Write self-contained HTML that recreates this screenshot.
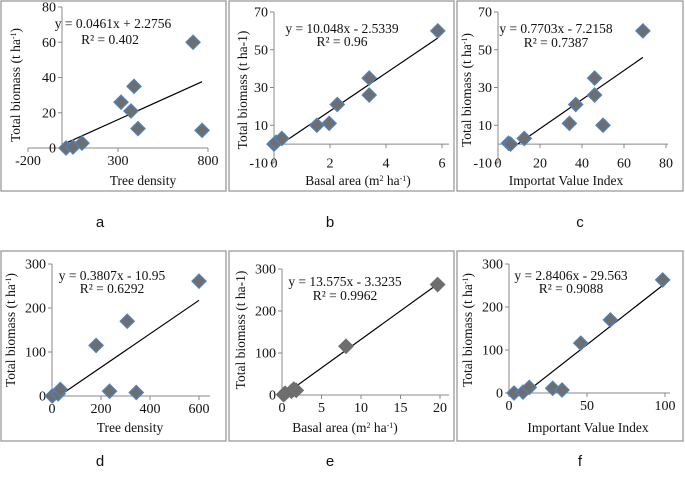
<!DOCTYPE html>
<html><head><meta charset="utf-8"><style>
body{margin:0;background:#fff;}
svg{display:block;font-family:"Liberation Serif",serif;}
</style></head><body>
<svg id="c" width="685" height="479" xmlns="http://www.w3.org/2000/svg"></svg>
<script>
// Panel data (x values, y values)
const aX=[11,50,100,317,372,389,411,717,767];
const aY=[0,0.6,2.8,26,21,35,11,60,10];
const bX=[0,0.07,0.28,1.53,1.97,2.26,3.4,3.4,5.85];
const bY=[0,1,3,10,11,21,26,35,60];
const cX=[5,6,12.5,34,37,46,46,50,69];
const cY=[0.5,0,3,11,21,26,35,10,60];
const dX=[1,25,34,180,235,307,344,600];
const dY=[0,5,15,115,11,170,8,261];
const eX=[0.2,0.4,1.2,1.5,1.8,8.1,19.7];
const eY=[1,4,9,14,11,116,263];
const fX=[3.2,9,13,28,34,46,65,98.5];
const fY=[0,2,13,11,7,116,170,263];
// Trend coefficients [slope, intercept]
const aFit=[0.0461,2.2756],bFit=[10.048,-2.5339],cFit=[0.7703,-7.2158];
const dFit=[0.3807,-10.95],eFit=[13.575,-3.3235],fFit=[2.8406,-29.563];
// Tick labels
const aXT=[-200,300,800],aYT=[0,20,40,60,80];
const bXT=[0,2,4,6],bYT=[-10,10,30,50,70];
const cXT=[0,20,40,60,80],cYT=[-10,10,30,50,70];
const dXT=[0,200,400,600],dYT=[0,100,200,300];
const eXT=[0,5,10,15,20],eYT=[0,100,200,300];
const fXT=[0,50,100],fYT=[0,100,200,300];

const NS="http://www.w3.org/2000/svg";
const svg=document.getElementById('c');
function mk(t,a,p){const e=document.createElementNS(NS,t);for(const k in a)e.setAttribute(k,a[k]);(p||svg).appendChild(e);return e;}

const panels=[
 {id:'a',box:[1,1,225,190],xs:[-200,28,800,208],ys:[0,148,80,7],yAxX:62,xAxV:0,xEnd:208,X:aX,Y:aY,fit:aFit,xt:aXT,yt:aYT,
  eq:['y = 0.0461x + 2.2756',113,28],r2:['R² = 0.402',110,44],xl:'Tree density',xlx:143,xly:185,yl:'Total biomass  (t ha<tspan baseline-shift="super" font-size="8">-1</tspan>)',ylx:16,yly:85,lab:'a',labx:100,laby:227},
 {id:'b',box:[229,1,225,190],xs:[0,274,6,442],ys:[-10,163,70,12],yAxX:274,xAxV:0,xEnd:449,X:bX,Y:bY,fit:bFit,xt:bXT,yt:bYT,
  eq:['y = 10.048x - 2.5339',342,33],r2:['R² = 0.96',342,46],xl:'Basal area (m<tspan baseline-shift="super" font-size="8">2</tspan> ha<tspan baseline-shift="super" font-size="8">-1</tspan>)',xlx:358,xly:185,yl:'Total biomass  (t ha-1)',ylx:243,yly:90,lab:'b',labx:330,laby:227},
 {id:'c',box:[457,1,226,190],xs:[0,498,80,666],ys:[-10,163,70,12],yAxX:498,xAxV:0,xEnd:668,X:cX,Y:cY,fit:cFit,xt:cXT,yt:cYT,
  eq:['y = 0.7703x - 7.2158',556,33],r2:['R² = 0.7387',556,47],xl:'Importat Value Index',xlx:566,xly:185,yl:'Total biomass  (t ha<tspan baseline-shift="super" font-size="8">-1</tspan>)',ylx:467,yly:90,lab:'c',labx:580,laby:227},
 {id:'d',box:[1,251,225,190],xs:[0,52,600,199],ys:[0,396,300,264],yAxX:52,xAxV:0,xEnd:210,X:dX,Y:dY,fit:dFit,xt:dXT,yt:dYT,
  eq:['y = 0.3807x - 10.95',112,280],r2:['R² = 0.6292',112,293],xl:'Tree density',xlx:130,xly:432,yl:'Total biomass  (t ha<tspan baseline-shift="super" font-size="8">-1</tspan>)',ylx:11,yly:330,lab:'d',labx:100,laby:466},
 {id:'e',box:[229,251,225,190],xs:[0,282,20,440],ys:[0,395,300,269],yAxX:282,xAxV:0,xEnd:449,X:eX,Y:eY,fit:eFit,xt:eXT,yt:eYT,noBlue:true,
  eq:['y = 13.575x - 3.3235',345,286],r2:['R² = 0.9962',345,300],xl:'Basal area (m<tspan baseline-shift="super" font-size="8">2</tspan> ha<tspan baseline-shift="super" font-size="8">-1</tspan>)',xlx:345,xly:432,yl:'Total biomass  (t ha-1)',ylx:241,yly:330,lab:'e',labx:330,laby:466},
 {id:'f',box:[457,251,226,190],xs:[0,509,100,665],ys:[0,393,300,264],yAxX:509,xAxV:0,xEnd:670,X:fX,Y:fY,fit:fFit,xt:fXT,yt:fYT,
  eq:['y = 2.8406x - 29.563',571,280],r2:['R² = 0.9088',571,293],xl:'Important Value Index',xlx:588,xly:432,yl:'Total biomass  (t ha<tspan baseline-shift="super" font-size="8">-1</tspan>)',ylx:468,yly:330,lab:'f',labx:580,laby:466}
];

panels.forEach(p=>{
 const g=mk('g',{});
 
 
 const sx=v=>p.xs[1]+(v-p.xs[0])/(p.xs[2]-p.xs[0])*(p.xs[3]-p.xs[1]);
 const sy=v=>p.ys[1]+(v-p.ys[0])/(p.ys[2]-p.ys[0])*(p.ys[3]-p.ys[1]);
 const bx=mk('rect',{x:p.box[0],y:p.box[1],width:p.box[2],height:p.box[3],fill:'none',stroke:'#9a9a9a','stroke-width':1.3},g);
 
 
 const yTop=sy(p.yt[p.yt.length-1]), yBot=sy(p.yt[0]);
 const ya=mk('line',{x1:p.yAxX,y1:yTop,x2:p.yAxX,y2:yBot,stroke:'#888','stroke-width':1},g);
 
 
 const xStart=Math.min(sx(p.xt[0]),p.yAxX);
 const xa=mk('line',{x1:xStart,y1:sy(p.xAxV),x2:p.xEnd,y2:sy(p.xAxV),stroke:'#888','stroke-width':1},g);
 
 
 p.yt.forEach(v=>{
  mk('line',{x1:p.yAxX-4,y1:sy(v),x2:p.yAxX,y2:sy(v),stroke:'#888'},g);
  const t=mk('text',{x:p.yAxX-6,y:sy(v)+4.5,'text-anchor':'end','font-size':14,fill:'#111'},g);
  t.textContent=v;
  
  
 });
 const xLabY=p.yt[0]<0? sy(p.yt[0])+4.5 : sy(p.xAxV)+17;
 p.xt.forEach(v=>{
  mk('line',{x1:sx(v),y1:sy(p.xAxV),x2:sx(v),y2:sy(p.xAxV)+4,stroke:'#888'},g);
  const t=mk('text',{x:sx(v),y:xLabY,'text-anchor':'middle','font-size':14,fill:'#111'},g);
  t.textContent=v;
  
  
 });
 const xmin=Math.min(...p.X), xmax=Math.max(...p.X);
 let x0=xmin; if(p.fit[0]*x0+p.fit[1]<p.yt[0]) x0=(p.yt[0]-p.fit[1])/p.fit[0];
 const tl=mk('line',{x1:sx(x0),y1:sy(p.fit[0]*x0+p.fit[1]),x2:sx(xmax),y2:sy(p.fit[0]*xmax+p.fit[1]),stroke:'#000','stroke-width':1.2},g);
 
 
 p.X.forEach((xv,i)=>{
  const cx=sx(xv), cy=sy(p.Y[i]), r=7;
  const d=mk('polygon',{points:`${cx},${cy-r} ${cx+r},${cy} ${cx},${cy+r} ${cx-r},${cy}`,fill:'#6e6e6e',stroke:p.noBlue?'#6e6e6e':'#4f81bd','stroke-width':1.3},g);
  
  
 });
 [[p.eq,'equation-label'],[p.r2,'r-squared-label']].forEach(([e,n])=>{
  const t=mk('text',{x:e[1],y:e[2],'text-anchor':'middle','font-size':13.5,fill:'#111'},g);
  t.textContent=e[0];
  
  
 });
 const xt=mk('text',{x:p.xlx,y:p.xly,'text-anchor':'middle','font-size':13.5,fill:'#111'},g);
 xt.innerHTML=p.xl;
 
 
 const yt=mk('text',{x:0,y:0,'text-anchor':'middle','font-size':13.5,fill:'#111',transform:`translate(${p.ylx+4},${p.yly}) rotate(-90)`},g);
 yt.innerHTML=p.yl;
 
 
 const lb=mk('text',{x:p.labx,y:p.laby,'text-anchor':'middle','font-size':15,fill:'#111','font-family':'Liberation Sans, sans-serif'},g);
 lb.textContent=p.lab;
 
 
});
</script>
</body></html>
